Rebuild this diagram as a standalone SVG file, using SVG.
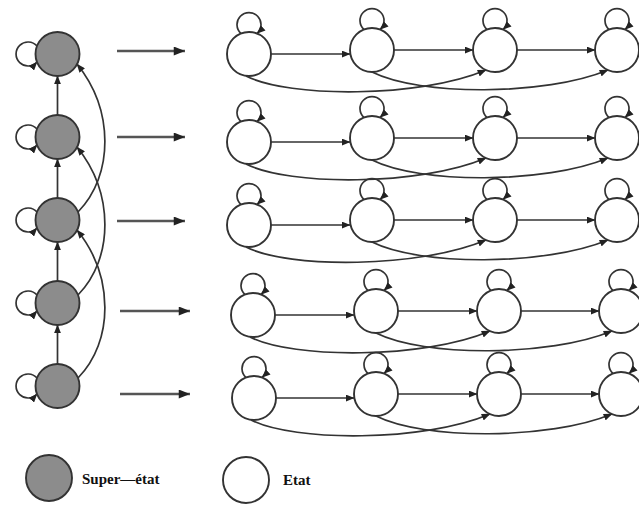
<svg xmlns="http://www.w3.org/2000/svg" width="639" height="505" viewBox="0 0 639 505">
  <style>
    .super { fill: #8c8c8c; stroke: #333; stroke-width: 1.9; }
    .state { fill: #fff; stroke: #333; stroke-width: 1.9; }
    .edge { fill: none; stroke: #333; stroke-width: 1.7; marker-end: url(#arrow); }
    .map { fill: none; stroke: #555; stroke-width: 2.4; marker-end: url(#bigArrow); }
    .label { font-family: "Liberation Serif", "Times New Roman", serif; font-weight: bold; font-size: 15px; fill: #111; }
  </style>
  <defs>
    <marker id="arrow" viewBox="0 0 10 8" refX="9.5" refY="4" markerWidth="9" markerHeight="7" markerUnits="userSpaceOnUse" orient="auto">
      <path d="M0,0 L10,4 L0,8 z" fill="#222"/>
    </marker>
    <marker id="bigArrow" viewBox="0 0 10 8" refX="10" refY="4" markerWidth="13" markerHeight="9" markerUnits="userSpaceOnUse" orient="auto">
      <path d="M0,0 L10,4 L0,8 z" fill="#222"/>
    </marker>
  </defs>
  <rect width="639" height="505" fill="#fff"/>

  <!-- connectors -->
  <g id="connectors">
    <!-- super-state self loops -->
    <path class="edge" d="M37,46 A12 12 0 1 0 37,62"/>
    <path class="edge" d="M37,129 A12 12 0 1 0 37,145"/>
    <path class="edge" d="M37,212 A12 12 0 1 0 37,228"/>
    <path class="edge" d="M37,295 A12 12 0 1 0 37,311"/>
    <path class="edge" d="M37,378 A12 12 0 1 0 37,394"/>
    <!-- super-state chain -->
    <path class="edge" d="M57.5,115 L57.5,76"/>
    <path class="edge" d="M57.5,198 L57.5,159"/>
    <path class="edge" d="M57.5,281 L57.5,242"/>
    <path class="edge" d="M57.5,364 L57.5,325"/>
    <!-- super-state skip arcs -->
    <path class="edge" d="M78,212 C114,175 114,110 77,64"/>
    <path class="edge" d="M78,295 C114,258 114,193 77,147"/>
    <path class="edge" d="M78,378 C114,341 114,276 77,230"/>

    <!-- expansion arrows -->
    <path class="map" d="M117,51 L185,51"/>
    <path class="map" d="M117,137 L185,137"/>
    <path class="map" d="M117,221 L185,221"/>
    <path class="map" d="M120,311 L190,311"/>
    <path class="map" d="M120,394 L190,394"/>

    <!-- row 1 -->
    <path class="edge" d="M241,33.5 A12 12 0 1 1 257,33.5"/>
    <path class="edge" d="M364,29.5 A12 12 0 1 1 380,29.5"/>
    <path class="edge" d="M487,29.5 A12 12 0 1 1 503,29.5"/>
    <path class="edge" d="M609,29.5 A12 12 0 1 1 625,29.5"/>
    <path class="edge" d="M271,54 L350,54"/>
    <path class="edge" d="M394,50 L473,50"/>
    <path class="edge" d="M517,50 L595,50"/>
    <path class="edge" d="M246,76 C289,98 420,98 486,70"/>
    <path class="edge" d="M372,72 C420,96 545,96 608,70"/>

    <!-- row 2 -->
    <path class="edge" d="M241,121.5 A12 12 0 1 1 257,121.5"/>
    <path class="edge" d="M364,117.5 A12 12 0 1 1 380,117.5"/>
    <path class="edge" d="M487,117.5 A12 12 0 1 1 503,117.5"/>
    <path class="edge" d="M609,117.5 A12 12 0 1 1 625,117.5"/>
    <path class="edge" d="M271,142 L350,142"/>
    <path class="edge" d="M394,138 L473,138"/>
    <path class="edge" d="M517,138 L595,138"/>
    <path class="edge" d="M246,164 C289,186 420,186 486,158"/>
    <path class="edge" d="M372,160 C420,184 545,184 608,158"/>

    <!-- row 3 -->
    <path class="edge" d="M241,204.5 A12 12 0 1 1 257,204.5"/>
    <path class="edge" d="M364,199.5 A12 12 0 1 1 380,199.5"/>
    <path class="edge" d="M487,199.5 A12 12 0 1 1 503,199.5"/>
    <path class="edge" d="M609,199.5 A12 12 0 1 1 625,199.5"/>
    <path class="edge" d="M271,225 L350,225"/>
    <path class="edge" d="M394,220 L473,220"/>
    <path class="edge" d="M517,220 L595,220"/>
    <path class="edge" d="M246,247 C289,269 420,268 486,240"/>
    <path class="edge" d="M372,242 C420,266 545,266 608,240"/>

    <!-- row 4 -->
    <path class="edge" d="M245,294.5 A12 12 0 1 1 261,294.5"/>
    <path class="edge" d="M368,290.5 A12 12 0 1 1 384,290.5"/>
    <path class="edge" d="M491,290.5 A12 12 0 1 1 507,290.5"/>
    <path class="edge" d="M613,290.5 A12 12 0 1 1 629,290.5"/>
    <path class="edge" d="M275,315 L354,315"/>
    <path class="edge" d="M398,311 L477,311"/>
    <path class="edge" d="M521,311 L599,311"/>
    <path class="edge" d="M250,337 C293,359 424,359 490,331"/>
    <path class="edge" d="M376,333 C424,357 549,357 612,331"/>

    <!-- row 5 -->
    <path class="edge" d="M246,377.5 A12 12 0 1 1 262,377.5"/>
    <path class="edge" d="M368,373.5 A12 12 0 1 1 384,373.5"/>
    <path class="edge" d="M491,373.5 A12 12 0 1 1 507,373.5"/>
    <path class="edge" d="M613,373.5 A12 12 0 1 1 629,373.5"/>
    <path class="edge" d="M276,398 L354,398"/>
    <path class="edge" d="M398,394 L477,394"/>
    <path class="edge" d="M521,394 L599,394"/>
    <path class="edge" d="M251,420 C294,442 424,442 490,414"/>
    <path class="edge" d="M376,416 C424,440 549,440 612,414"/>
  </g>

  <!-- super-states -->
  <g id="super1"><circle class="super" cx="57.5" cy="54" r="22"/></g>
  <g id="super2"><circle class="super" cx="57.5" cy="137" r="22"/></g>
  <g id="super3"><circle class="super" cx="57.5" cy="220" r="22"/></g>
  <g id="super4"><circle class="super" cx="57.5" cy="303" r="22"/></g>
  <g id="super5"><circle class="super" cx="57.5" cy="386" r="22"/></g>

  <!-- states -->
  <g id="r1s1"><circle class="state" cx="249" cy="54" r="22"/></g>
  <g id="r1s2"><circle class="state" cx="372" cy="50" r="22"/></g>
  <g id="r1s3"><circle class="state" cx="495" cy="50" r="22"/></g>
  <g id="r1s4"><circle class="state" cx="617" cy="50" r="22"/></g>

  <g id="r2s1"><circle class="state" cx="249" cy="142" r="22"/></g>
  <g id="r2s2"><circle class="state" cx="372" cy="138" r="22"/></g>
  <g id="r2s3"><circle class="state" cx="495" cy="138" r="22"/></g>
  <g id="r2s4"><circle class="state" cx="617" cy="138" r="22"/></g>

  <g id="r3s1"><circle class="state" cx="249" cy="225" r="22"/></g>
  <g id="r3s2"><circle class="state" cx="372" cy="220" r="22"/></g>
  <g id="r3s3"><circle class="state" cx="495" cy="220" r="22"/></g>
  <g id="r3s4"><circle class="state" cx="617" cy="220" r="22"/></g>

  <g id="r4s1"><circle class="state" cx="253" cy="315" r="22"/></g>
  <g id="r4s2"><circle class="state" cx="376" cy="311" r="22"/></g>
  <g id="r4s3"><circle class="state" cx="499" cy="311" r="22"/></g>
  <g id="r4s4"><circle class="state" cx="621" cy="311" r="22"/></g>

  <g id="r5s1"><circle class="state" cx="254" cy="398" r="22"/></g>
  <g id="r5s2"><circle class="state" cx="376" cy="394" r="22"/></g>
  <g id="r5s3"><circle class="state" cx="499" cy="394" r="22"/></g>
  <g id="r5s4"><circle class="state" cx="621" cy="394" r="22"/></g>

  <!-- legend -->
  <g id="legend-super">
    <circle class="super" cx="49" cy="478" r="23"/>
    <text class="label" x="82" y="484">Super—état</text>
  </g>
  <g id="legend-state">
    <circle class="state" cx="246" cy="480" r="23"/>
    <text class="label" x="283" y="485">Etat</text>
  </g>
</svg>
